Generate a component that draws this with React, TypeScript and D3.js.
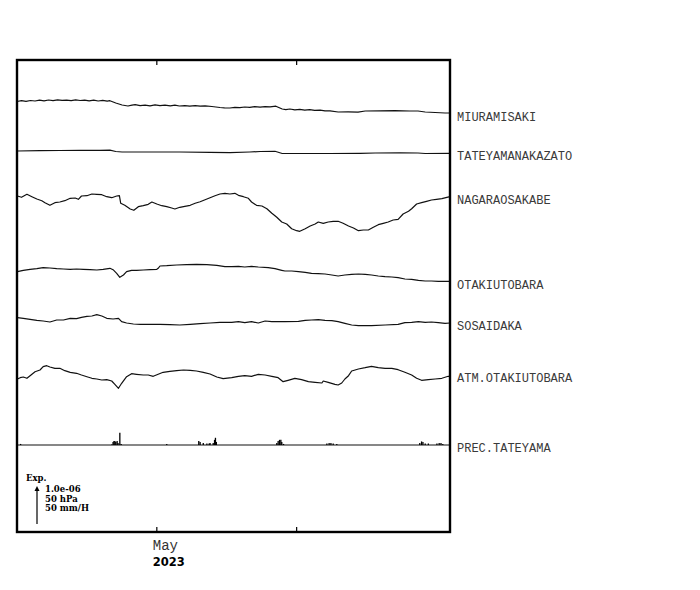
import React from 'react';
import * as d3 from 'd3';

// ---- data (time in days from start of record, values in chart units; 38 units = scale bar) ----
const TIME_DOMAIN: [number, number] = [0, 96];
const TICK_DAYS = [31, 62];
const MONTH_LABEL = 'May';
const YEAR_LABEL = '2023';

const SERIES_NAMES = [
  'MIURAMISAKI',
  'TATEYAMANAKAZATO',
  'NAGARAOSAKABE',
  'OTAKIUTOBARA',
  'SOSAIDAKA',
  'ATM.OTAKIUTOBARA',
  'PREC.TATEYAMA',
];

const MIURAMISAKI: [number, number][] = [
  [0, 11.5], [1, 12.3], [2, 11.7], [3, 12.5], [4, 12], [5, 12.8], [6, 12.2], [7, 13], [8, 12.4], [9, 13.2],
  [10, 12.6], [11, 12.9], [12, 12.3], [13, 13.1], [14, 12.5], [15, 12.9], [16, 12.2], [17, 12.8], [18, 12],
  [19, 12.6], [20, 11.8], [20.6, 12.3], [21.9, 10], [23.3, 8], [24.6, 7], [25.5, 7.8], [26.2, 8.3], [27.3, 7.4],
  [28.4, 7.9], [29.5, 7.2], [30.6, 8.1], [31.7, 7.4], [32.8, 7.8], [34, 7.2], [35, 7.8], [36, 7], [37.2, 7.4],
  [38.3, 6.8], [39.5, 7.3], [40.6, 6.8], [41.7, 7.2], [43.2, 6.5], [45, 5.5], [46, 5.2], [47.2, 5], [48.3, 5.7],
  [49.4, 5.3], [50.5, 6], [51.6, 5.6], [52.7, 6.3], [53.9, 5.8], [55, 6.4], [56.1, 6.1], [57.4, 6.8], [58.8, 4],
  [59.6, 3.4], [60.5, 4], [61.6, 3.2], [62.7, 3.6], [63.8, 2.8], [64.9, 3.4], [66, 2.6], [67.2, 2.9], [68.3, 2.2],
  [69.4, 2.2], [71.2, 1], [73.4, 1.2], [75.6, 0.9], [77.2, 2], [80.5, 2.2], [83.8, 2.4], [87.1, 2], [88.9, 2],
  [90.5, 1], [92.7, 0.5], [94.9, 0], [96, 0],
];

const TATEYAMANAKAZATO: [number, number][] = [
  [0, 2.3], [5.1, 2.6], [9.5, 2.8], [14, 3], [18.4, 3], [20.6, 3.1], [21.9, 1.8], [23.3, 1.3], [29.5, 1.3],
  [36.1, 1.3], [42.8, 1], [47.2, 0.6], [51.6, 1.3], [53.9, 1.8], [57.2, 2], [58.8, -0.2], [62.7, -0.2],
  [69.4, -0.2], [76.1, 0], [79.4, 0.3], [85, 0.5], [88.9, 0.3], [90.5, -0.2], [96, 0],
];

const NAGARAOSAKABE: [number, number][] = [
  [0.1, 0.7], [1, -0.6], [2.2, 2.4], [3.3, 0], [4.4, -2.3], [5.5, -4], [6.2, -6], [7.3, -8.6], [8.4, -6],
  [9.5, -5.3], [10.6, -4], [11.8, -1.6], [12.9, -1.3], [13.6, -2.6], [14.3, 0.7], [15.5, 1], [16.6, 2.7],
  [17.7, 2.4], [18.8, 2], [19.9, 0], [21, -1], [22.1, 0.7], [22.7, 1], [23, -6.6], [23.9, -8.6], [25.1, -12.3],
  [25.9, -13.6], [26.9, -10], [28, -9], [29.1, -7.6], [29.9, -5.3], [31, -7.3], [32.1, -9], [33.2, -10],
  [34.3, -11.3], [35, -12.3], [36.1, -10.6], [37.2, -9.6], [38.4, -8.6], [39.5, -6.6], [40.6, -5], [41.7, -3],
  [42.8, -1], [43.9, 1], [45, 2.7], [46.1, 3.4], [47.2, 2.7], [48.3, 3.4], [49.1, 1.4], [50.2, 0], [51.3, -1.6],
  [52, -5.3], [53.1, -8.6], [54.3, -9.3], [55.4, -12], [56.5, -16.6], [57.6, -20.6], [58.7, -25.3], [59.8, -27.3],
  [60.9, -32], [62, -34], [62.7, -34.6], [63.9, -32], [65, -29.3], [66.1, -27.3], [66.8, -25.3], [67.9, -26.6],
  [69, -25.3], [70.1, -24.6], [71.2, -24.6], [72.3, -26.6], [73.5, -29.3], [74.6, -31.3], [75.7, -34],
  [76.8, -33.3], [77.9, -33.3], [79, -30.6], [80.1, -28], [81.2, -26.6], [82.3, -25.3], [83.4, -23.3],
  [84.5, -22.6], [85.6, -17.3], [86.8, -14.6], [87.5, -12], [88.6, -7.3], [89.7, -6], [90.8, -4.6], [91.9, -3.3],
  [93, -2.6], [94.2, -2], [95.3, -0.6], [96, 0],
];

const OTAKIUTOBARA: [number, number][] = [
  [0.1, 9.6], [1.4, 11], [2.9, 12], [4.4, 12.6], [5.8, 13.6], [7.3, 13.3], [8.8, 12.6], [10.3, 12.3], [11.8, 12],
  [13.2, 12.3], [14.7, 12], [16.2, 11.6], [17.7, 11.3], [19.1, 12], [20.6, 13], [21.3, 11.6], [22.1, 8], [22.8, 4],
  [23.6, 6.3], [24.3, 9.6], [25.4, 11], [26.5, 11], [28, 11.3], [29.5, 11.6], [31, 12], [31.3, 13], [31.7, 15.3],
  [33.2, 15.6], [35.4, 16.3], [37.6, 16.6], [39.8, 17], [42.1, 16.6], [44.3, 16], [46.1, 14.6], [47.6, 14.6],
  [49.1, 15], [50.5, 14.3], [52, 15], [53.5, 14.3], [55.7, 13.6], [57.2, 12.6], [58.7, 11], [59.4, 10.3],
  [60.9, 10.3], [62.4, 9.6], [63.9, 9], [65.3, 8], [66.8, 7.6], [68.3, 7.3], [69.8, 6.3], [71.2, 5.3], [72.7, 6.3],
  [74.2, 7], [75.7, 7.3], [77.2, 7], [78.6, 6.3], [80.1, 5.3], [81.6, 4.6], [83.1, 4.3], [84.5, 3.6], [86, 2.3],
  [87.5, 2], [89, 1], [90.5, 0.3], [91.9, 0.3], [93.4, 0], [95.6, 0], [96, 0],
];

const SOSAIDAKA: [number, number][] = [
  [0.1, 5.3], [1.4, 4.7], [2.9, 3.7], [4.4, 2.7], [5.8, 2], [7.3, 1], [8.8, 3], [10.3, 3], [11.8, 4.7], [13.2, 4.3],
  [14.3, 5.7], [15.5, 6.7], [16.6, 7], [17.7, 8.3], [18.8, 7], [19.9, 4.7], [21.3, 4], [22.5, 4.7], [23.2, 1.3],
  [24.3, 0], [25.8, -1], [27.3, -1.3], [29.5, -1.3], [31.7, -1.3], [33.9, -1.7], [36.1, -2], [38.4, -1.3],
  [40.6, -0.7], [42.8, 0], [45, 0.7], [47.6, 0.7], [49.1, 1.3], [50.5, 0.3], [52, 1.3], [53.5, 0], [55, 2],
  [56.5, 1.3], [59.4, 1.3], [62.4, 1.7], [63.9, 2.7], [65.3, 3], [66.8, 3.3], [68.3, 2.7], [69.8, 2.3], [71.2, 1.3],
  [72.7, -0.3], [74.2, -2], [75.7, -2.7], [78.6, -2.7], [81.6, -2], [84.5, -1.3], [86, 0.3], [87.5, 0.7],
  [89, 1.3], [90.5, 0.7], [91.9, 1], [93.4, 0.3], [94.9, -0.3], [96, 0],
];

const ATM_OTAKIUTOBARA: [number, number][] = [
  [0.1, -2.7], [0.7, -1.4], [1.4, -0.7], [2.2, -2], [2.9, 0.6], [4, 4.6], [5.1, 6.3], [5.8, 9.6], [6.6, 10.6],
  [7.3, 9.3], [8.4, 8], [9.5, 8], [10.6, 5.6], [11.8, 4], [13.2, 3], [14.3, 1.3], [15.5, -0.4], [16.6, -2],
  [17.7, -2.7], [18.8, -3.7], [19.9, -3.4], [21, -4.7], [21.7, -8], [22.5, -12], [23.2, -7], [24.3, -0.4],
  [25.4, 2.6], [26.5, 2], [28, 1.3], [29.1, 1.3], [30.2, 0], [31.3, 2], [32.4, 4], [33.9, 5], [35.4, 5.6],
  [36.9, 6.3], [38.4, 6], [39.8, 5.3], [41.3, 4], [42.8, 2.3], [44.3, -0.7], [45.7, -2.4], [47.6, -1.4],
  [49.1, 0], [50.5, 0.6], [52, 0], [53.5, 2], [55, 1.3], [56.5, 0], [57.9, -1.4], [59, -5.4], [60.1, -4],
  [61.6, -2], [63.1, -3.4], [64.6, -5.4], [66.1, -6], [67.6, -6.7], [67.9, -4.7], [69, -6], [70.5, -8],
  [71.2, -8.7], [72, -6.7], [72.7, -2.7], [73.5, 0.6], [74.2, 5.3], [75.7, 7.3], [77.2, 8.6], [78.6, 10],
  [80.1, 8.6], [81.6, 8], [83.1, 8], [84.5, 6.6], [86, 4], [87.5, 1.3], [88.6, -2], [89.7, -4], [91.2, -3.4],
  [92.7, -2.7], [94.2, -2], [95.6, 0], [96, 0],
];

// precipitation, mm/H
const PREC_TATEYAMA: [number, number][] = [
  [0.8, 1.4], [21.0, 0.7], [21.3, 4], [21.5, 5.4], [21.7, 5.4], [21.9, 4], [22.2, 5.4], [22.4, 2.7], [22.8, 16],
  [23.1, 1.4], [33.2, 1.4], [40.3, 5.4], [40.6, 4], [41.3, 2.7], [42.1, 2], [42.6, 2], [42.8, 2.7], [43.5, 2.7],
  [43.8, 6.8], [44.0, 9.5], [44.2, 4], [57.6, 2.7], [57.9, 5.4], [58.2, 6.8], [58.5, 6.8], [58.7, 4], [59.1, 1.4],
  [68.7, 2], [69.2, 2.7], [69.6, 2.7], [70.1, 2], [70.9, 1.4], [89.3, 2.7], [89.7, 4.7], [90.0, 4], [90.5, 2],
  [91.2, 2], [93.1, 2], [93.6, 2.7], [94.0, 2.7], [94.4, 1.4],
];

const SCALE_TEXT = ['1.0e-06', '50 hPa', '50 mm/H'];
const SCALE_UNITS = 38; // chart units per scale bar
const PREC_SCALE_MM = 50; // mm/H per scale bar

// ---- layout ----
const W = 700;
const H = 590;
const FRAME = { left: 17, right: 450, top: 60, bottom: 532 };
const TRACE_BASES = [113, 153.3, 196.7, 281.3, 323, 376.3, 445];
const LABEL_BASELINES = [120.5, 160, 204, 288.5, 330, 382, 451.5];
const SCALE_BAR_PX = 38;
const MONO = "'Courier New', 'Liberation Mono', 'Nimbus Mono PS', monospace";

const TRACES = [MIURAMISAKI, TATEYAMANAKAZATO, NAGARAOSAKABE, OTAKIUTOBARA, SOSAIDAKA, ATM_OTAKIUTOBARA];

export default function App() {
  const x = d3.scaleLinear().domain(TIME_DOMAIN).range([FRAME.left, FRAME.right]);
  const amp = d3.scaleLinear().domain([0, SCALE_UNITS]).range([0, SCALE_BAR_PX]);
  const precAmp = d3.scaleLinear().domain([0, PREC_SCALE_MM]).range([0, SCALE_BAR_PX]);

  const yFor = (i: number) => (v: number) => TRACE_BASES[i] - amp(v);

  const lines = TRACES.map((data, i) => {
    const y = yFor(i);
    return d3.line<[number, number]>().x((d) => x(d[0])).y((d) => y(d[1]))(data) || '';
  });

  const precBase = TRACE_BASES[6];
  const precBaseline = d3.line<[number, number]>().x((d) => x(d[0])).y(() => precBase)([
    [TIME_DOMAIN[0], 0],
    [TIME_DOMAIN[1], 0],
  ]) || '';

  const arrowX = 37;
  const arrowBottom = 524;
  const arrowTop = arrowBottom - SCALE_BAR_PX;

  return (
    <svg width={W} height={H} style={{ position: 'absolute', left: 0, top: 0, background: '#fff' }}>
      <rect x={0} y={0} width={W} height={H} fill="#fff" />
      {lines.map((d, i) => (
        <path key={i} d={d} fill="none" stroke="#111" strokeWidth={1.2} strokeLinejoin="round" />
      ))}
      <path d={precBaseline} fill="none" stroke="#111" strokeWidth={1.1} />
      {PREC_TATEYAMA.map(([t, v], i) => (
        <line key={i} x1={x(t)} x2={x(t)} y1={precBase} y2={precBase - precAmp(v)} stroke="#000" strokeWidth={1.3} />
      ))}

      {/* frame */}
      <rect
        x={FRAME.left}
        y={FRAME.top}
        width={FRAME.right - FRAME.left}
        height={FRAME.bottom - FRAME.top}
        fill="none"
        stroke="#000"
        strokeWidth={2.4}
      />
      {TICK_DAYS.map((t) => (
        <g key={t}>
          <line x1={x(t)} x2={x(t)} y1={FRAME.top} y2={FRAME.top + 5} stroke="#000" strokeWidth={1.2} />
          <line x1={x(t)} x2={x(t)} y1={FRAME.bottom} y2={FRAME.bottom - 5} stroke="#000" strokeWidth={1.2} />
        </g>
      ))}
      <text x={x(TICK_DAYS[0]) - 4} y={550} fontFamily={MONO} fontSize={14} fill="#333">
        {MONTH_LABEL}
      </text>
      <text x={x(TICK_DAYS[0]) - 4} y={566} fontFamily="'DejaVu Sans', sans-serif" fontWeight="bold" fontSize={11.5} fill="#000">
        {YEAR_LABEL}
      </text>

      {/* series labels */}
      {SERIES_NAMES.map((name, i) => (
        <text key={name} x={457} y={LABEL_BASELINES[i]} fontFamily={MONO} fontSize={12} fill="#3a3a3a">
          {name}
        </text>
      ))}

      {/* scale legend */}
      <text x={26} y={481} fontFamily="'DejaVu Serif', serif" fontWeight="bold" fontSize={8.5} fill="#000">
        Exp.
      </text>
      <line x1={arrowX} x2={arrowX} y1={arrowTop + 2} y2={arrowBottom} stroke="#000" strokeWidth={1.2} />
      <path d={`M${arrowX - 2.5},${arrowTop + 5} L${arrowX},${arrowTop} L${arrowX + 2.5},${arrowTop + 5} Z`} fill="#000" />
      {SCALE_TEXT.map((s, i) => (
        <text key={s} x={45} y={492 + i * 9.5} fontFamily="'DejaVu Serif', serif" fontWeight="bold" fontSize={8.5} fill="#000">
          {s}
        </text>
      ))}
    </svg>
  );
}
